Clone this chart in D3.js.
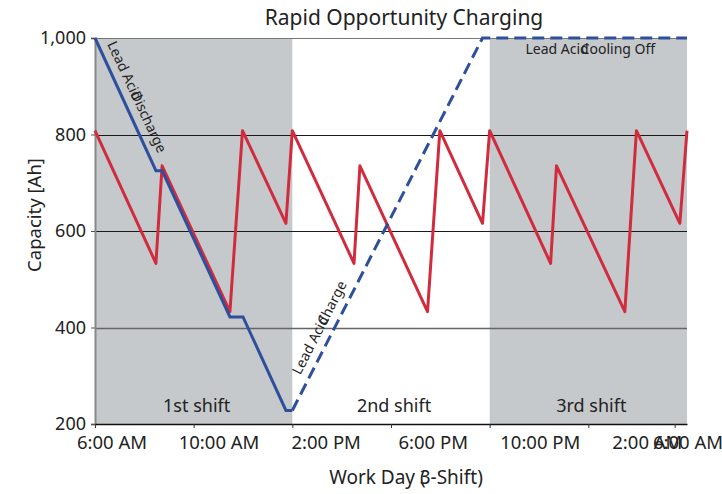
<!DOCTYPE html>
<html>
<head>
<meta charset="utf-8">
<script src="https://cdn.jsdelivr.net/npm/d3@7"></script>
<style>
  body { margin: 0; background: #fff; }
  text { font-family: "Noto Sans", "Open Sans", sans-serif; fill: #222; }
</style>
</head>
<body>
<div id="chart"></div>
<script>
// shifts
var shiftNames = ["1st shift", "2nd shift", "3rd shift"];
var shiftStart = [0, 8, 16];
var shiftEnd = [8, 16, 24];
var shiftShaded = [true, false, true];

// axis ticks (hours after 6:00 AM)
var tickHours = [0, 4, 8, 12, 16, 20, 23.5];
var tickLabels = ["6:00 AM", "10:00 AM", "2:00 PM", "6:00 PM", "10:00 PM", "2:00 AM", "6:00 AM"];
var yTicks = [200, 400, 600, 800, 1000];

// lead acid discharge (solid)
var dischargeHours = [0, 2.47, 2.72, 5.47, 6.0, 7.74, 8.0];
var dischargeAh = [1000, 725, 725, 422, 422, 228, 228];

// lead acid charge + cooling off (dashed)
var chargeHours = [8.0, 15.71, 24];
var chargeAh = [228, 1000, 1000];

// rapid opportunity charging
var rapidHours = [0, 2.47, 2.72, 5.47, 5.98, 7.74, 8.0, 10.5, 10.74, 13.48, 13.98, 15.71, 16.0, 18.47, 18.71, 21.48, 21.95, 23.71, 24];
var rapidAh = [808, 533, 735, 433, 808, 616, 808, 533, 735, 433, 808, 616, 808, 533, 735, 433, 808, 616, 808];

var W = 722, H = 494;
var margin = {top: 38, right: 35, bottom: 70, left: 95},
    width = W - margin.left - margin.right,
    height = H - margin.top - margin.bottom;

var svg = d3.select("#chart")
    .append("svg")
        .attr("width", W)
        .attr("height", H);

var g = svg.append("g")
    .attr("transform", "translate(" + margin.left + "," + margin.top + ")");

var x = d3.scaleLinear().domain([0, 24]).range([0, width]);
var y = d3.scaleLinear().domain([200, 1000]).range([height, 0]);

// shaded shift bands
g.selectAll(".band")
    .data(shiftNames.map(function(d, i) { return {name: d, s: shiftStart[i], e: shiftEnd[i], shaded: shiftShaded[i]}; }))
    .enter()
    .append("rect")
        .attr("x", function(d) { return x(d.s); })
        .attr("y", 0)
        .attr("width", function(d) { return x(d.e) - x(d.s); })
        .attr("height", height)
        .style("fill", function(d) { return d.shaded ? "#c6c9cc" : "none"; });

// gridlines
g.selectAll(".grid")
    .data(yTicks.filter(function(d) { return d > 200; }))
    .enter()
    .append("line")
        .attr("x1", 0)
        .attr("x2", width)
        .attr("y1", function(d) { return Math.round(y(d)) + 0.5; })
        .attr("y2", function(d) { return Math.round(y(d)) + 0.5; })
        .style("stroke", function(d) { return d == 1000 ? "#777" : (d == 400 ? "#666" : "#1a1a1a"); })
        .style("stroke-width", function(d) { return d == 400 ? 1.6 : 1; });

// y axis
var yAxis = g.append("g")
    .call(d3.axisLeft(y).tickValues(yTicks).tickSize(4).tickPadding(5).tickFormat(d3.format(",")));
yAxis.select(".domain").style("stroke", "#888").style("stroke-width", 2);
yAxis.selectAll(".tick line").style("stroke", "#555");
yAxis.selectAll("text")
    .style("font-size", "18px")
    .style("font-family", "Noto Sans")
    .style("fill", "#222");

// x axis
var xAxis = g.append("g")
    .attr("transform", "translate(0," + height + ")")
    .call(d3.axisBottom(x).tickValues(tickHours).tickSize(4).tickSizeOuter(0).tickFormat(""));
xAxis.select(".domain").style("stroke", "#111").style("stroke-width", 1.5);
xAxis.selectAll(".tick line").style("stroke", "#333");

// x tick labels (placed on their own, slightly spread, as in the source)
var labelX = d3.scaleLinear().domain([0, 20]).range([x(0) + 17, x(20) + 59]);
g.append("g")
    .selectAll("text")
    .data(tickLabels)
    .enter()
    .append("text")
        .attr("x", function(d, i) { return i < tickLabels.length - 1 ? labelX(tickHours[i]) : x(24) + 1; })
        .attr("y", height + 25)
        .attr("text-anchor", "middle")
        .style("font-size", "18.5px")
        .text(function(d) { return d; });

// lines
var line = d3.line()
    .x(function(d) { return x(d[0]); })
    .y(function(d) { return y(d[1]); });

g.append("path")
    .datum(rapidHours.map(function(h, i) { return [h, rapidAh[i]]; }))
    .attr("d", line)
    .style("fill", "none")
    .style("stroke", "#d12b3e")
    .style("stroke-width", 3)
    .style("stroke-linejoin", "round");

g.append("path")
    .datum(dischargeHours.map(function(h, i) { return [h, dischargeAh[i]]; }))
    .attr("d", line)
    .style("fill", "none")
    .style("stroke", "#2e4f9b")
    .style("stroke-width", 3);

g.append("path")
    .datum(chargeHours.map(function(h, i) { return [h, chargeAh[i]]; }))
    .attr("d", line)
    .style("fill", "none")
    .style("stroke", "#2e4f9b")
    .style("stroke-width", 3)
    .style("stroke-dasharray", "12,6");

// shift labels
g.selectAll(".shiftLabel")
    .data(shiftNames)
    .enter()
    .append("text")
        .attr("x", function(d, i) { return x((shiftStart[i] + shiftEnd[i]) / 2) + 3; })
        .attr("y", height - 12)
        .attr("text-anchor", "middle")
        .style("font-size", "18px")
        .text(function(d) { return d; });

// annotations along the lead acid line
var a1 = g.append("text")
    .attr("transform", "translate(" + (x(0) + 12) + "," + (y(1000) + 6) + ") rotate(65)")
    .style("font-size", "14px");
a1.append("tspan").text("Lead Acid");
a1.append("tspan").attr("dx", -8).text("Discharge");

var a2 = g.append("text")
    .attr("transform", "translate(" + (x(8) + 8) + "," + (y(228) - 35) + ") rotate(-63)")
    .style("font-size", "14px");
a2.append("tspan").text("Lead Acid");
a2.append("tspan").attr("dx", -8).text("Charge");

var a3 = g.append("text")
    .attr("x", x(17.45))
    .attr("y", y(1000) + 16)
    .style("font-size", "14px");
a3.append("tspan").text("Lead Acid");
a3.append("tspan").attr("dx", -8).text("Cooling Off");

// title and axis titles
svg.append("text")
    .attr("x", 404)
    .attr("y", 25)
    .attr("text-anchor", "middle")
    .style("font-size", "21px")
    .text("Rapid Opportunity Charging");

svg.append("text")
    .attr("transform", "translate(41," + 215 + ") rotate(-90)")
    .attr("text-anchor", "middle")
    .style("font-size", "18.5px")
    .text("Capacity [Ah]");

var xt = svg.append("text")
    .attr("x", 406)
    .attr("y", 484)
    .attr("text-anchor", "middle")
    .style("font-size", "19px");
xt.append("tspan").text("Work Day (");
xt.append("tspan").attr("dx", -6).text("3-Shift)");
</script>
</body>
</html>
